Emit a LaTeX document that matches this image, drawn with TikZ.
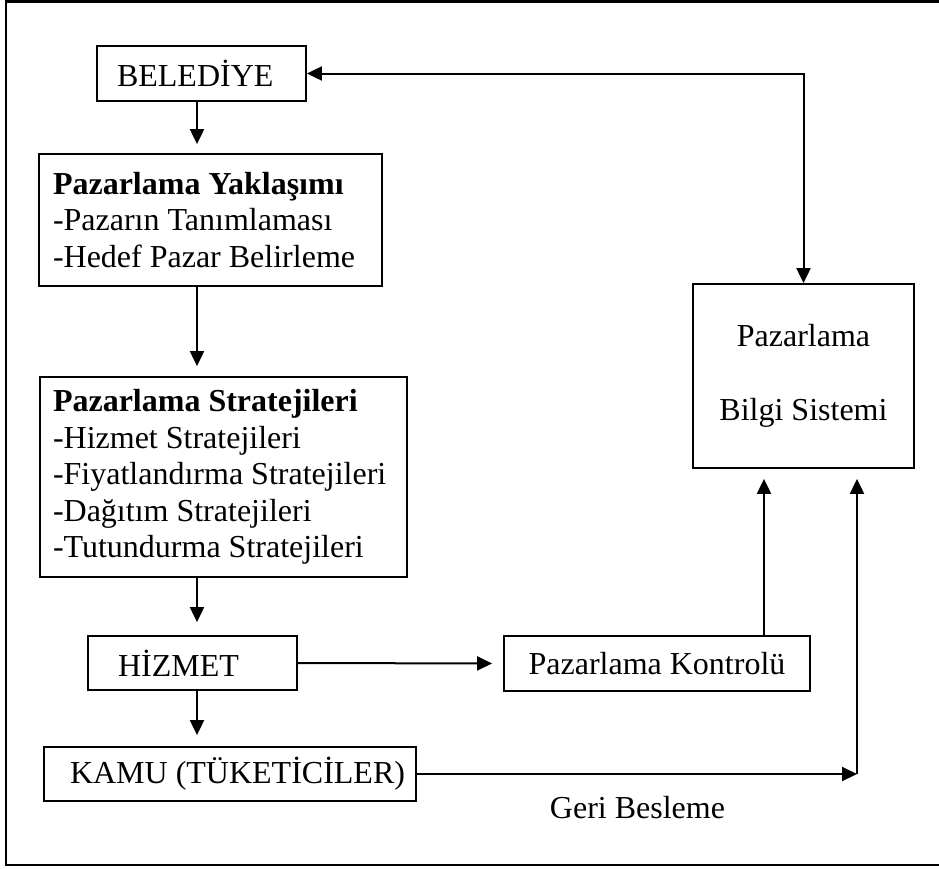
\documentclass[tikz,border=0pt]{standalone}
\usepackage{fontspec}
\setmainfont{Liberation Serif}
\usetikzlibrary{arrows.meta}
\begin{document}
\begin{tikzpicture}[x=1pt,y=-1pt,
  box/.style={draw, line width=1.8pt, inner ysep=0pt, align=flush left,
    font=\fontsize{32}{36.5}\selectfont},
  cbox/.style={box, align=flush center},
  conn/.style={line width=2pt, -{Triangle[length=15pt,width=14pt]}},
  conn2/.style={line width=2pt, {Triangle[length=15pt,width=14pt]}-{Triangle[length=15pt,width=14pt]}},
  lbl/.style={inner sep=0pt, font=\fontsize{32}{36.5}\selectfont}]
\useasboundingbox (0,0) rectangle (939,868);
% outer frame (right side outside the picture)
\draw[line width=2.5pt] (939,1.4) -- (6,1.4) -- (6,865) -- (939,865);

\node[box, text width=169pt, inner xsep=20pt, minimum height=55pt] (bel) at (201.5,73.5) {BELEDİYE};
\node[box, text width=315pt, inner xsep=14pt, minimum height=132pt] (yak) at (210.5,220)
  {\textbf{Pazarlama Yaklaşımı}\\-Pazarın Tanımlaması\\-Hedef Pazar Belirleme};
\node[box, text width=341pt, inner xsep=13pt, minimum height=200pt] (str) at (223.5,477)
  {\textbf{Pazarlama Stratejileri}\\-Hizmet Stratejileri\\-Fiyatlandırma Stratejileri\\-Dağıtım Stratejileri\\-Tutundurma Stratejileri};
\node[box, text width=149pt, inner xsep=30pt, minimum height=54pt] (hiz) at (192.5,663) {HİZMET};
\node[cbox, text width=286pt, inner xsep=10pt, minimum height=55pt] (kon) at (657,663.5) {Pazarlama Kontrolü};
\node[box, text width=352pt, inner xsep=10pt, minimum height=54pt] (kamu) at (230,774) {\hspace*{16pt}KAMU (TÜKETİCİLER)};
\node[cbox, text width=201pt, inner xsep=10pt, minimum height=184pt] (bil) at (803.5,376)
  {Pazarlama\\[38pt]Bilgi Sistemi};
\node[lbl] (geri) at (637.5,808) {Geri Besleme};

\coordinate (ax) at (197,0);
\coordinate (kx) at (764,0);
\coordinate (fb) at (857,774);

\draw[conn2] (bel.east) -| (bil.north);
\draw[conn, shorten >=9pt] (bel.south -| ax) -- (yak.north -| ax);
\draw[conn, shorten >=10pt] (yak.south -| ax) -- (str.north -| ax);
\draw[conn, shorten >=13pt] (str.south -| ax) -- (hiz.north -| ax);
\draw[conn, shorten >=11pt] (hiz.south -| ax) -- (kamu.north -| ax);
\draw[conn, shorten >=11pt] (hiz.east) -- (kon.west);
\draw[conn, shorten >=10pt] (kon.north -| kx) -- (bil.south -| kx);
\draw[conn] (kamu.east) -- (fb);
\draw[conn, shorten >=10pt] (fb) -- (bil.south -| fb);
\end{tikzpicture}
\end{document}
